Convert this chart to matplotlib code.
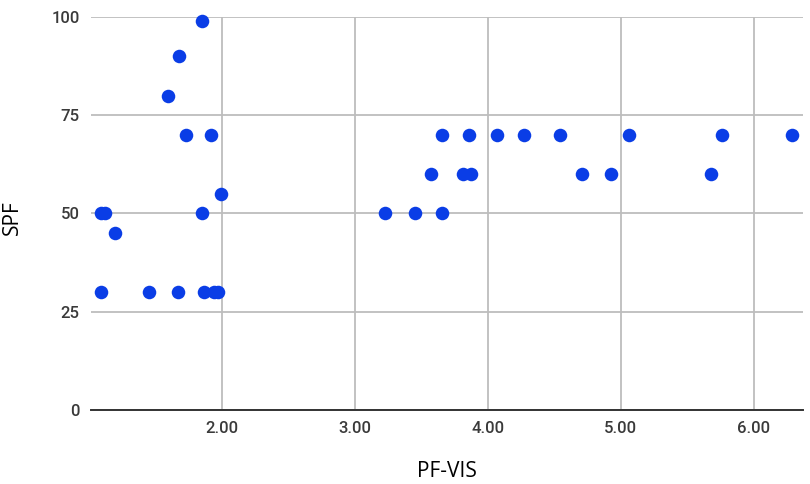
import matplotlib.pyplot as plt

# PF-VIS vs SPF
pf_vis = [1.85, 1.675, 1.595, 1.73, 1.915, 1.99, 1.85, 1.09, 1.12, 1.19,
          1.09, 1.45, 1.67, 1.86, 1.94, 1.97,
          3.655, 3.86, 4.07, 4.27, 4.54, 5.065, 5.76, 6.29,
          3.575, 3.81, 3.875, 4.71, 4.93, 5.68,
          3.225, 3.45, 3.655]
spf = [99, 90, 80, 70, 70, 55, 50, 50, 50, 45,
       30, 30, 30, 30, 30, 30,
       70, 70, 70, 70, 70, 70, 70, 70,
       60, 60, 60, 60, 60, 60,
       50, 50, 50]

x_ticks = [2, 3, 4, 5, 6]
x_tick_labels = ["2.00", "3.00", "4.00", "5.00", "6.00"]
y_ticks = [0, 25, 50, 75, 100]

fig = plt.figure(figsize=(8.1, 4.84), dpi=100)
ax = fig.add_axes([0.112, 0.153, 0.879, 0.812])

ax.scatter(pf_vis, spf, s=95, color="#0A3DE6", zorder=3, clip_on=False, linewidths=0)

ax.set_xlim(1.01, 6.37)
ax.set_ylim(0, 100)
ax.set_xticks(x_ticks)
ax.set_xticklabels(x_tick_labels)
ax.set_yticks(y_ticks)

ax.grid(True, color="#bdbdbd", linewidth=1.3)
ax.set_axisbelow(True)
for side in ["top", "right", "left"]:
    ax.spines[side].set_visible(False)
ax.spines["bottom"].set_color("#333333")
ax.spines["bottom"].set_linewidth(1.4)
ax.tick_params(length=0, labelsize=12, labelcolor="#3a3a3a", pad=8)
for lab in ax.get_xticklabels() + ax.get_yticklabels():
    lab.set_fontfamily("Roboto")
    lab.set_fontweight("medium")

ax.set_xlabel("PF-VIS", fontsize=15, family="Open Sans", labelpad=18)
ax.set_ylabel("SPF", fontsize=15, family="Open Sans")
ax.yaxis.set_label_coords(-0.095, 0.49)

plt.savefig("out.png", dpi=100)
